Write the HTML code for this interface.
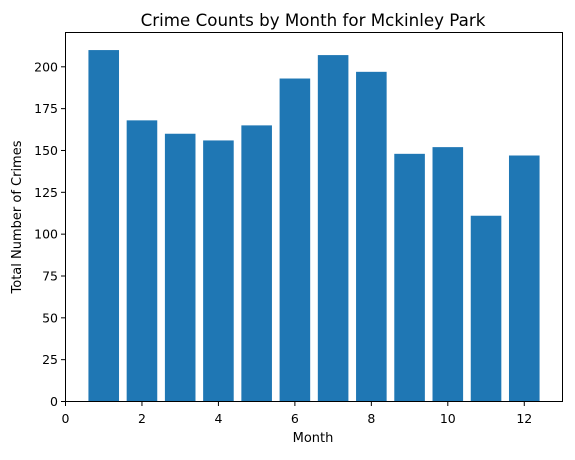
<!DOCTYPE html>
<html><head><meta charset="utf-8">
<style>
body{margin:0;background:#fff;font-family:"Liberation Sans","DejaVu Sans",sans-serif;}
svg text{font-family:"DejaVu Sans","Liberation Sans",sans-serif;fill:#000;}
</style></head>
<body>
<svg id="chart" width="575" height="455" xmlns="http://www.w3.org/2000/svg">
<rect width="575" height="455" fill="#fff"/>
<text x="313" y="26" font-size="16.7" text-anchor="middle">Crime Counts by Month for Mckinley Park</text>
<g id="bars"></g>
<g id="xticks"></g>
<g id="yticks"></g>
<rect x="65.5" y="32.5" width="497" height="369" fill="none" stroke="#000" stroke-width="1"/>
<text x="313" y="442" font-size="13" text-anchor="middle">Month</text>
<text transform="translate(21,217) rotate(-90)" font-size="13" text-anchor="middle">Total Number of Crimes</text>
</svg>
<script>
const months=[1,2,3,4,5,6,7,8,9,10,11,12];
const counts=[210,168,160,156,165,193,207,197,148,152,111,147];
const xTicks=[0,2,4,6,8,10,12];
const yTicks=[0,25,50,75,100,125,150,175,200];
const L=65.5,R=562.5,T=32.5,B=401.5;
const xMin=0,xMax=13,yMin=0,yMax=220.5;
const sx=v=>L+(v-xMin)/(xMax-xMin)*(R-L);
const sy=v=>B-(v-yMin)/(yMax-yMin)*(B-T);
const NS="http://www.w3.org/2000/svg";
const bars=document.getElementById('bars');
months.forEach((m,i)=>{
 const r=document.createElementNS(NS,'rect');
 r.setAttribute('x',sx(m-0.4));r.setAttribute('width',sx(m+0.4)-sx(m-0.4));
 r.setAttribute('y',sy(counts[i]));r.setAttribute('height',sy(0)-sy(counts[i]));
 r.setAttribute('fill','#1f77b4');
 
 
 bars.appendChild(r);
});
const xg=document.getElementById('xticks');
xTicks.forEach(t=>{
 const x=sx(t);
 const l=document.createElementNS(NS,'line');
 l.setAttribute('x1',x);l.setAttribute('x2',x);l.setAttribute('y1',B);l.setAttribute('y2',B+4.5);l.setAttribute('stroke','#000');
 
 
 xg.appendChild(l);
 const tx=document.createElementNS(NS,'text');
 tx.setAttribute('x',x);tx.setAttribute('y',B+21.5);tx.setAttribute('font-size','12.5');tx.setAttribute('text-anchor','middle');
 tx.textContent=t;
 
 
 xg.appendChild(tx);
});
const yg=document.getElementById('yticks');
yTicks.forEach(t=>{
 const y=sy(t);
 const l=document.createElementNS(NS,'line');
 l.setAttribute('x1',L-4.5);l.setAttribute('x2',L);l.setAttribute('y1',y);l.setAttribute('y2',y);l.setAttribute('stroke','#000');
 
 
 yg.appendChild(l);
 const tx=document.createElementNS(NS,'text');
 tx.setAttribute('x',L-7.5);tx.setAttribute('y',y+4.5);tx.setAttribute('font-size','12.5');tx.setAttribute('text-anchor','end');
 tx.textContent=t;
 
 
 yg.appendChild(tx);
});
</script>
</body></html>
